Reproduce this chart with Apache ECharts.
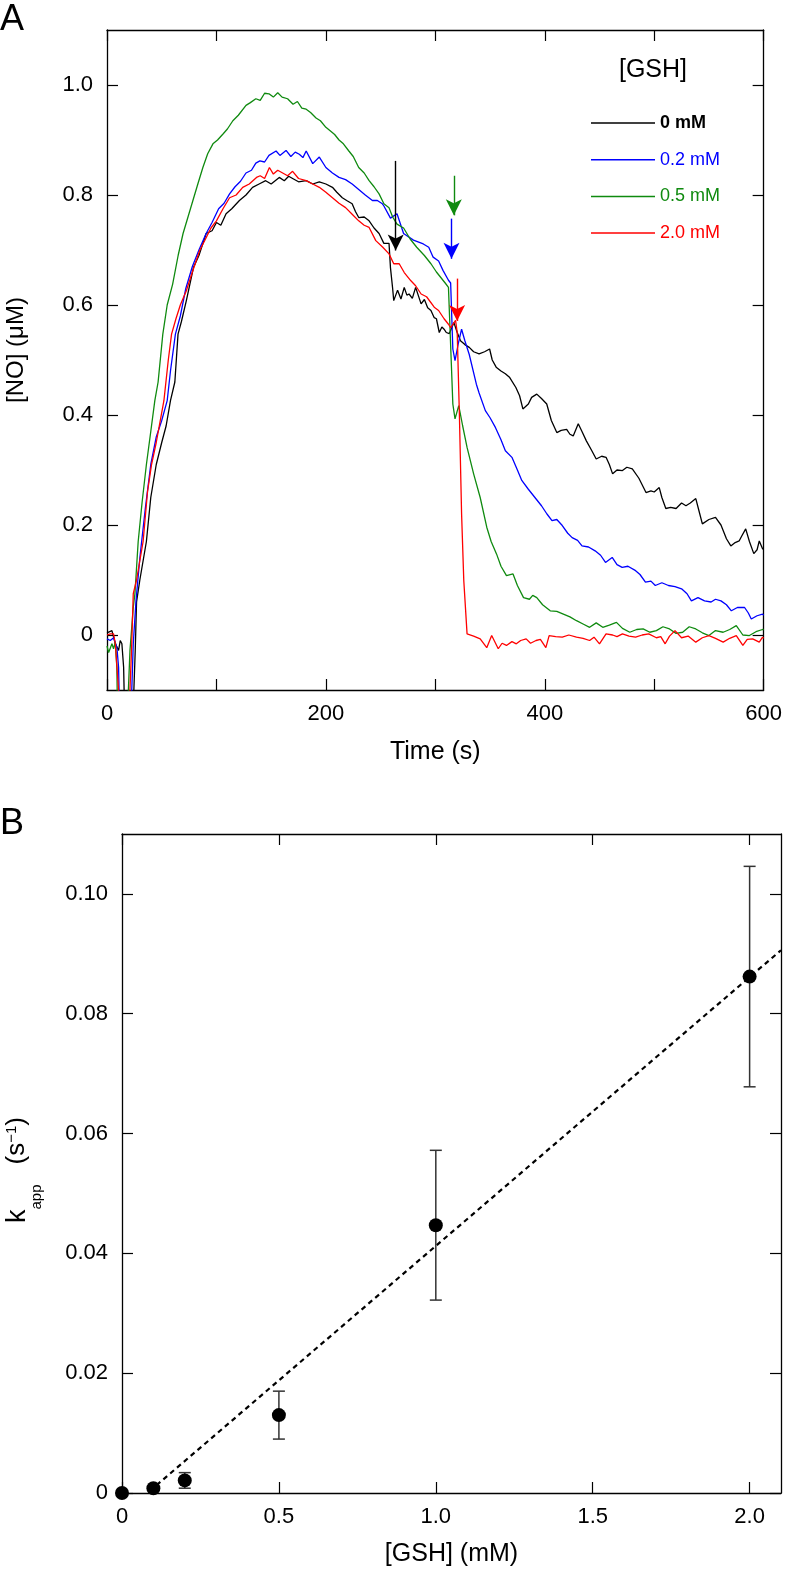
<!DOCTYPE html>
<html><head><meta charset="utf-8">
<script src="https://cdn.jsdelivr.net/npm/echarts@6/dist/echarts.min.js"></script>
<style>html,body{margin:0;padding:0;background:#fff}#c{width:785px;height:1570px}</style>
</head><body><div id="c"></div>
<script>
// ---------- Panel A data ----------
const legendNames = ['0 mM', '0.2 mM', '0.5 mM', '2.0 mM'];
const traceColors = ['#000000', '#0000ff', '#0f8a0f', '#ff0000'];

const trace0mM = [[0,0.004],[4.5,0.008],[7.6,-0.016],[10.6,-0.028],[12.1,-0.01],[13.6,-0.016],[15.2,-0.059],[16.7,-0.2],[22.8,-0.2],[25.8,-0.028],[27,0.06],[30,0.1],[36,0.17],[40,0.25],[45,0.31],[50,0.35],[54,0.38],[58,0.426],[62,0.46],[64.9,0.547],[68,0.57],[72.5,0.608],[79,0.668],[84,0.69],[90.6,0.73],[96,0.735],[100,0.75],[104,0.745],[108.8,0.766],[114,0.775],[121,0.79],[127,0.8],[133,0.814],[139,0.82],[145,0.826],[150,0.82],[157.4,0.832],[162,0.826],[166,0.834],[169.6,0.83],[175,0.824],[182,0.826],[188,0.82],[194,0.824],[200,0.82],[206,0.814],[210,0.805],[215,0.795],[219,0.79],[224,0.784],[227,0.77],[230,0.759],[235,0.76],[239.5,0.753],[244,0.74],[248.6,0.73],[253,0.712],[257.7,0.712],[259,0.668],[261,0.63],[262,0.608],[265.5,0.627],[268.6,0.611],[271.6,0.632],[274,0.618],[276,0.62],[279,0.612],[282,0.632],[287,0.602],[290,0.61],[293,0.595],[296,0.59],[299,0.577],[301,0.575],[303.6,0.55],[306,0.56],[308,0.556],[310,0.55],[312.8,0.548],[317,0.568],[320,0.55],[323,0.535],[327,0.528],[331,0.523],[335,0.515],[340,0.511],[345,0.515],[349.6,0.52],[352,0.5],[355.6,0.487],[360,0.48],[364,0.475],[368,0.468],[373.6,0.45],[377,0.435],[380,0.411],[385,0.42],[388,0.432],[392.7,0.438],[397,0.43],[401.8,0.42],[406,0.39],[411,0.368],[415,0.372],[420,0.374],[423,0.365],[426,0.362],[430.6,0.384],[434,0.37],[438,0.353],[443,0.335],[447,0.32],[452,0.325],[456,0.323],[459,0.31],[462,0.293],[466,0.3],[471,0.299],[475,0.305],[480,0.302],[486,0.285],[492.5,0.259],[497,0.262],[500,0.26],[504.6,0.268],[507,0.25],[510.6,0.23],[515,0.232],[520,0.23],[525,0.24],[529,0.235],[533,0.24],[538,0.248],[541,0.225],[544,0.202],[550,0.21],[556,0.214],[561,0.2],[566,0.175],[570,0.162],[574,0.168],[577.6,0.171],[580,0.18],[583.6,0.193],[587,0.17],[591,0.148],[594,0.155],[596,0.171],[599,0.157],[600,0.155]];

const trace02mM = [[0,-0.007],[3,-0.01],[6,-0.005],[9,-0.022],[10.6,-0.059],[12,-0.2],[21,-0.2],[24,-0.016],[26.5,0.062],[30,0.14],[35,0.23],[40,0.31],[45,0.36],[50,0.39],[55,0.426],[58,0.48],[62.5,0.547],[67,0.58],[72,0.63],[78,0.67],[84,0.7],[90.6,0.73],[96,0.75],[102,0.775],[107,0.785],[112,0.802],[117,0.815],[122,0.825],[127,0.84],[132,0.845],[136,0.858],[139.7,0.862],[144,0.86],[148,0.872],[154.5,0.88],[158,0.872],[163.6,0.881],[168,0.87],[172,0.878],[175.7,0.874],[179,0.868],[182,0.88],[188,0.857],[194,0.869],[200,0.85],[206,0.84],[212,0.832],[218,0.828],[224,0.82],[230,0.81],[236,0.8],[242.5,0.79],[247,0.79],[251.6,0.784],[253,0.78],[259,0.758],[265,0.766],[271,0.73],[280,0.718],[289,0.711],[294,0.705],[298,0.687],[303,0.68],[307,0.663],[312,0.645],[314,0.64],[316,0.52],[318,0.499],[321,0.53],[324,0.556],[327,0.535],[331,0.51],[337.5,0.456],[340,0.44],[345.7,0.408],[350,0.395],[355,0.377],[360,0.355],[364,0.335],[370,0.323],[375,0.3],[379,0.281],[385,0.265],[391,0.25],[397,0.235],[402,0.22],[406.6,0.208],[411,0.21],[416,0.199],[421,0.185],[425,0.177],[430,0.172],[434,0.162],[440,0.16],[446,0.153],[451,0.145],[455.5,0.132],[461.6,0.141],[466,0.128],[470.7,0.123],[476,0.125],[483,0.117],[487,0.11],[492,0.096],[497,0.098],[501,0.09],[507,0.095],[513,0.09],[519,0.088],[525,0.084],[530,0.075],[534,0.062],[540,0.068],[546,0.062],[552,0.06],[556,0.065],[561,0.062],[566,0.055],[570.5,0.044],[576,0.05],[582.6,0.05],[586,0.04],[588.7,0.029],[594,0.035],[599,0.038],[600,0.036]];

const trace05mM = [[0,-0.02],[1.5,-0.032],[4.5,-0.016],[6,-0.025],[7.6,-0.013],[9,-0.059],[10,-0.2],[17.5,-0.2],[21,-0.028],[24,0.05],[25.5,0.075],[28.5,0.17],[32,0.24],[36,0.31],[40,0.37],[43.7,0.426],[46.7,0.46],[51,0.547],[55,0.6],[60,0.638],[65,0.69],[69.5,0.73],[74,0.76],[78.5,0.79],[83,0.82],[87.6,0.85],[92,0.875],[96.8,0.893],[101,0.9],[106,0.911],[110,0.92],[115,0.935],[120,0.945],[127,0.963],[131,0.968],[136,0.975],[140,0.972],[144,0.985],[148,0.984],[152,0.978],[156,0.986],[160,0.978],[165,0.975],[170,0.965],[174,0.97],[178,0.958],[182,0.956],[186,0.95],[191,0.94],[195,0.935],[200,0.923],[205,0.915],[208,0.91],[212,0.9],[216,0.893],[221,0.88],[225,0.87],[230,0.85],[235,0.84],[239.5,0.826],[244,0.815],[248.6,0.802],[253,0.784],[257.7,0.777],[261,0.76],[265,0.747],[271,0.74],[277,0.72],[283,0.705],[290,0.69],[296,0.675],[301,0.66],[305,0.65],[309,0.64],[312,0.632],[313.5,0.63],[314.5,0.5],[316,0.42],[318,0.393],[321.4,0.417],[325,0.38],[329,0.341],[335,0.293],[341,0.25],[347,0.196],[351,0.17],[356,0.147],[360,0.125],[365,0.108],[371,0.111],[375,0.09],[380.6,0.068],[386,0.065],[389,0.072],[392.7,0.068],[398,0.055],[405,0.044],[411,0.043],[417,0.038],[423,0.033],[429,0.026],[435,0.02],[441,0.014],[447,0.022],[453,0.014],[459,0.018],[465.5,0.023],[471,0.012],[477.7,0.005],[484,0.01],[489.9,0.011],[496,0.005],[502,0.008],[508,0.015],[514,0.011],[520,0.003],[526,0.005],[532,0.015],[538,0.011],[544,0.004],[550,-0.001],[556,0.008],[563,0.005],[569,0.01],[575,0.017],[581,0.0],[587,-0.001],[593,0.006],[599,0.01],[600,0.01]];

const trace2mM = [[0,0.0],[3,0.002],[6,0.002],[7.6,-0.016],[9.1,-0.059],[10.6,-0.101],[11,-0.2],[19,-0.2],[22.4,-0.028],[24,0.075],[27,0.1],[33,0.17],[37,0.26],[40.7,0.31],[45,0.35],[52,0.426],[56,0.5],[59,0.547],[63,0.575],[67,0.6],[72.5,0.626],[78,0.66],[84.7,0.699],[90,0.72],[95,0.74],[100,0.753],[106,0.775],[112,0.795],[118,0.8],[124,0.814],[130,0.82],[136.6,0.832],[140,0.835],[144,0.83],[148.4,0.85],[152,0.838],[156,0.845],[160.5,0.84],[165,0.835],[169.6,0.843],[175,0.83],[182,0.826],[188,0.82],[194,0.814],[200,0.805],[206,0.795],[212,0.785],[218,0.777],[224,0.765],[230,0.753],[235,0.745],[239.5,0.741],[245.6,0.717],[252,0.705],[257.7,0.693],[262,0.675],[267,0.675],[271.6,0.659],[277.7,0.644],[282,0.635],[287,0.62],[292,0.615],[299,0.596],[303,0.59],[308,0.575],[312,0.565],[314,0.559],[318.5,0.572],[320,0.55],[322,0.4],[324,0.22],[326,0.099],[329,0.002],[335,-0.002],[341,-0.007],[347,-0.023],[351.5,-0.001],[357.5,-0.025],[361,-0.015],[365,-0.019],[370,-0.012],[374,-0.016],[378,-0.01],[383,-0.007],[387,-0.015],[392,-0.01],[396,-0.008],[401,-0.023],[404,-0.001],[410,-0.003],[416,-0.004],[422,0.0],[429,-0.004],[435,-0.006],[441,-0.01],[445,-0.004],[450,-0.016],[456,0.002],[462,0.0],[466,-0.003],[471,0.002],[477,-0.002],[483,-0.004],[489,0.0],[495,0.002],[502,-0.005],[506,-0.003],[510,-0.016],[514,-0.002],[519,0.008],[525,-0.005],[531,-0.002],[538,-0.013],[544,-0.005],[550,-0.001],[556,-0.006],[563,-0.013],[569,-0.006],[575,-0.001],[581,-0.019],[585,-0.008],[590,-0.007],[596,-0.013],[599,-0.004],[600,-0.006]];

const traces = [trace0mM, trace02mM, trace05mM, trace2mM];

// GSH addition arrows (time, top, tip)
const arrowTimes = [263.8, 314.8, 316.9, 319.9];
const arrowTops  = [0.862, 0.757, 0.835, 0.648];
const arrowTips  = [0.699, 0.684, 0.763, 0.571];

const timeTicks  = [0, 100, 200, 300, 400, 500, 600];
const timeLabels = [0, 200, 400, 600];
const noTicks    = [0, 0.2, 0.4, 0.6, 0.8, 1.0];

// ---------- Panel B data ----------
const gshConc  = [0, 0.1, 0.2, 0.5, 1.0, 2.0];
const kappVals = [0, 0.0008, 0.0021, 0.013, 0.0447, 0.0862];
const kappErr  = [0, 0, 0.0013, 0.004, 0.0125, 0.0184];
const fitX = [0.11, 2.1];
const fitY = [0.0013, 0.0906];
const gshTicks  = [0, 0.5, 1.0, 1.5, 2.0];
const kappTicks = [0, 0.02, 0.04, 0.06, 0.08, 0.10];

// ---------- chart ----------
const FONT = '"Liberation Sans", Arial, Helvetica, sans-serif';
const chart = echarts.init(document.getElementById('c'), null, {renderer: 'canvas'});

const axLine = {show: true, onZero: false, lineStyle: {color: '#000', width: 1.3}};
const tickStyle = {color: '#000', width: 1.2};
const lblStyle = {color: '#000', fontSize: 22, fontFamily: FONT};

function frameAxis(gridIndex, position, min, max, ticks) {
  return {
    type: 'value', gridIndex, position, min, max,
    axisLine: axLine, splitLine: {show: false},
    axisTick: {show: true, inside: true, length: 11, lineStyle: tickStyle, customValues: ticks},
    axisLabel: {show: false}
  };
}

const seriesA = traces.map((tr, i) => ({
  name: legendNames[i], type: 'line', xAxisIndex: 0, yAxisIndex: 0,
  data: tr, symbol: 'none', showSymbol: false, clip: true,
  lineStyle: {color: traceColors[i], width: 1.3},
  itemStyle: {color: traceColors[i]},
  z: 3,
  markLine: {
    silent: true, animation: false,
    symbol: ['none', 'arrow'], symbolSize: [12, 16],
    label: {show: false},
    lineStyle: {color: traceColors[i], width: 1.4, type: 'solid'},
    data: [[{coord: [arrowTimes[i], arrowTops[i]]}, {coord: [arrowTimes[i], arrowTips[i]]}]]
  }
}));

const errData = gshConc.map((g, i) => [g, kappVals[i] - kappErr[i], kappVals[i] + kappErr[i], kappErr[i]])
  .filter(d => d[3] > 0);

const option = {
  animation: false,
  backgroundColor: '#fff',
  textStyle: {fontFamily: FONT},
  grid: [
    {left: 107, top: 30, width: 659, height: 660},
    {left: 122, top: 834, width: 659, height: 659}
  ],
  legend: {
    data: legendNames.map((n, i) => ({
      name: n,
      icon: 'path://M0,0H64V1.5H0Z',
      itemStyle: {color: traceColors[i]},
      textStyle: {color: traceColors[i], fontWeight: i === 0 ? 'bold' : 'normal'}
    })),
    symbolKeepAspect: true,
    orient: 'vertical', left: 591, top: 114, padding: 0,
    itemWidth: 64, itemHeight: 18, itemGap: 18.7,
    textStyle: {fontSize: 18, fontFamily: FONT, lineHeight: 18},
    selectedMode: false
  },
  xAxis: [
    {
      type: 'value', gridIndex: 0, position: 'bottom', min: 0, max: 600,
      axisLine: axLine, splitLine: {show: false},
      axisTick: {show: true, inside: true, length: 11, lineStyle: tickStyle, customValues: timeTicks},
      axisLabel: Object.assign({margin: 13, customValues: timeLabels, formatter: v => String(v)}, lblStyle),
      name: 'Time (s)', nameLocation: 'middle', nameGap: 50,
      nameTextStyle: {color: '#000', fontSize: 25, fontFamily: FONT}
    },
    frameAxis(0, 'top', 0, 600, timeTicks),
    {
      type: 'value', gridIndex: 1, position: 'bottom', min: 0, max: 2.1,
      axisLine: axLine, splitLine: {show: false},
      axisTick: {show: true, inside: true, length: 11, lineStyle: tickStyle, customValues: gshTicks},
      axisLabel: Object.assign({margin: 13, customValues: gshTicks, formatter: v => v === 0 ? '0' : v.toFixed(1)}, lblStyle),
      name: '[GSH] (mM)', nameLocation: 'middle', nameGap: 49,
      nameTextStyle: {color: '#000', fontSize: 25, fontFamily: FONT}
    },
    frameAxis(1, 'top', 0, 2.1, gshTicks)
  ],
  yAxis: [
    {
      type: 'value', gridIndex: 0, position: 'left', min: -0.1, max: 1.1,
      axisLine: axLine, splitLine: {show: false},
      axisTick: {show: true, inside: true, length: 11, lineStyle: tickStyle, customValues: noTicks},
      axisLabel: Object.assign({margin: 14, customValues: noTicks, formatter: v => Math.abs(v) < 1e-9 ? '0' : v.toFixed(1)}, lblStyle)
    },
    frameAxis(0, 'right', -0.1, 1.1, noTicks),
    {
      type: 'value', gridIndex: 1, position: 'left', min: 0, max: 0.11,
      axisLine: axLine, splitLine: {show: false},
      axisTick: {show: true, inside: true, length: 11, lineStyle: tickStyle, customValues: kappTicks},
      axisLabel: Object.assign({margin: 14, customValues: kappTicks, formatter: v => v === 0 ? '0' : v.toFixed(2)}, lblStyle)
    },
    frameAxis(1, 'right', 0, 0.11, kappTicks)
  ],
  series: seriesA.concat([
    {
      name: 'fit', type: 'line', xAxisIndex: 2, yAxisIndex: 2,
      data: fitX.map((x, i) => [x, fitY[i]]), symbol: 'none',
      lineStyle: {color: '#000', width: 2.2, type: [5, 4]}, z: 2
    },
    {
      name: 'err', type: 'custom', xAxisIndex: 2, yAxisIndex: 2, data: errData, z: 3,
      renderItem: function (params, api) {
        const x = api.value(0), lo = api.value(1), hi = api.value(2);
        const p1 = api.coord([x, hi]), p2 = api.coord([x, lo]);
        const w = 6;
        const st = {stroke: '#333', lineWidth: 1.5};
        return {type: 'group', children: [
          {type: 'line', shape: {x1: p1[0], y1: p1[1], x2: p2[0], y2: p2[1]}, style: st},
          {type: 'line', shape: {x1: p1[0] - w, y1: p1[1], x2: p1[0] + w, y2: p1[1]}, style: st},
          {type: 'line', shape: {x1: p2[0] - w, y1: p2[1], x2: p2[0] + w, y2: p2[1]}, style: st}
        ]};
      }
    },
    {
      name: 'kapp', type: 'scatter', xAxisIndex: 2, yAxisIndex: 2,
      data: gshConc.map((g, i) => [g, kappVals[i]]), symbol: 'circle', symbolSize: 14,
      itemStyle: {color: '#000', opacity: 1}, clip: false, z: 4
    }
  ]),
  graphic: [
    {type: 'text', left: 0, top: 2, style: {text: 'A', fontSize: 36, fontFamily: FONT, fill: '#000'}},
    {type: 'text', left: 0, top: 806, style: {text: 'B', fontSize: 36, fontFamily: FONT, fill: '#000'}},
    {type: 'text', x: 653, y: 70, style: {text: '[GSH]', fontSize: 25, fontFamily: FONT, fill: '#000', align: 'center', verticalAlign: 'middle'}},
    {type: 'text', x: 16, y: 350, rotation: Math.PI / 2,
      style: {text: '[NO] (μM)', fontSize: 24, fontFamily: FONT, fill: '#000', align: 'center', verticalAlign: 'middle'}},
    {type: 'text', x: 24, y: 1170, rotation: Math.PI / 2,
      style: {
        text: '{k|k}{sub|app}{gap| }{n|(s}{sup|−1}{n|)}',
        fontFamily: FONT, fill: '#000', align: 'center', verticalAlign: 'middle',
        rich: {
          k: {fontSize: 27, lineHeight: 40, verticalAlign: 'top', fontFamily: FONT, fill: '#000'},
          n: {fontSize: 26, lineHeight: 40, verticalAlign: 'top', fontFamily: FONT, fill: '#000'},
          sub: {fontSize: 15, lineHeight: 12, verticalAlign: 'bottom', fontFamily: FONT, fill: '#000'},
          sup: {fontSize: 15, lineHeight: 16, verticalAlign: 'top', fontFamily: FONT, fill: '#000'},
          gap: {fontSize: 14, width: 20, lineHeight: 12, verticalAlign: 'top'}
        }
      }
    }
  ]
};
chart.setOption(option);
</script>
</body></html>
